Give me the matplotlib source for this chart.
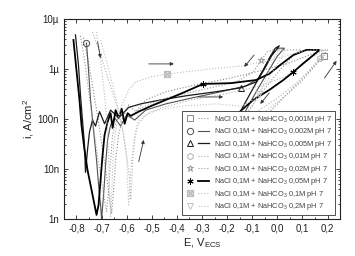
import matplotlib
matplotlib.use('Agg')
import matplotlib.pyplot as plt
from matplotlib.lines import Line2D
from matplotlib.legend_handler import HandlerTuple
from matplotlib.ticker import MultipleLocator, LogLocator

plt.rcParams['font.family'] = ['Liberation Sans', 'DejaVu Sans']
plt.rcParams['mathtext.fontset'] = 'custom'
plt.rcParams['mathtext.rm'] = 'Liberation Sans'
plt.rcParams['mathtext.it'] = 'Liberation Sans:italic'

# data (E in V vs ECS, i in A/cm2), forward scan then reverse scan
E1 = [-0.772, -0.752, -0.732, -0.712, -0.696, -0.68, -0.668, -0.66, -0.652, -0.644, -0.632, -0.616, -0.592, -0.564,
      -0.524, -0.444, -0.324, -0.184, -0.056, 0.036, 0.116, 0.168, 0.2, 0.184, 0.152, 0.104, 0.048, -0.016, -0.08, -0.144]
i1 = [4.2e-6, 1.4e-6, 3.5e-7, 8.7e-8, 2.4e-8, 7.6e-9, 2.4e-9, 1.26e-9, 3.8e-9, 1.5e-8, 4.8e-8, 1.05e-7, 1.9e-7, 1.4e-7,
      2.4e-7, 3.5e-7, 4.8e-7, 6.6e-7, 9.5e-7, 1.26e-6, 1.8e-6, 2.3e-6, 2.4e-6, 1.8e-6, 1.2e-6, 6.6e-7, 3.5e-7, 1.65e-7, 8e-8, 3.8e-8]

E2 = [-0.76, -0.752, -0.744, -0.732, -0.72, -0.712, -0.704, -0.70, -0.692, -0.684, -0.676, -0.664, -0.648, -0.624, -0.60,
      -0.568, -0.524, -0.444, -0.344, -0.224, -0.124, -0.072, -0.044, -0.02, 0.004, 0.028, 0.0, -0.04, -0.08, -0.12, -0.16, -0.2]
i2 = [3.3e-6, 9.5e-7, 2.4e-7, 6e-8, 1.5e-8, 4.8e-9, 1.9e-9, 1.0e-9, 3e-9, 1.2e-8, 3.8e-8, 7.6e-8, 1.05e-7, 7.2e-8, 1.2e-7,
      9.5e-8, 1.5e-7, 2e-7, 2.6e-7, 3.5e-7, 4.6e-7, 6.6e-7, 1.15e-6, 2e-6, 2.6e-6, 2.6e-6, 1.8e-6, 8.3e-7, 3.8e-7, 1.65e-7, 7.2e-8, 3.2e-8]

E3 = [-0.804, -0.792, -0.784, -0.776, -0.768, -0.764, -0.756, -0.748, -0.736, -0.724, -0.708, -0.688, -0.664, -0.632, -0.592,
      -0.544, -0.464, -0.364, -0.244, -0.144, -0.084, -0.056, -0.032, -0.008, 0.008, -0.024, -0.064, -0.104, -0.144, -0.184, -0.224]
i3 = [4.8e-6, 1.2e-6, 3e-7, 9.5e-8, 3e-8, 8.5e-9, 2.4e-8, 5.5e-8, 9.5e-8, 7.2e-8, 1.4e-7, 8e-8, 1.5e-7, 1.05e-7, 1.7e-7,
      2e-7, 2.4e-7, 2.9e-7, 3.5e-7, 4.2e-7, 5.5e-7, 9.5e-7, 1.65e-6, 2.6e-6, 2.9e-6, 1.8e-6, 8e-7, 3.5e-7, 1.5e-7, 6.6e-8, 2.9e-8]

E4 = [-0.736, -0.704, -0.672, -0.64, -0.616, -0.6, -0.588, -0.584, -0.58, -0.576, -0.568, -0.556, -0.524, -0.464, -0.344,
      -0.204, -0.064, 0.036, 0.096, 0.144, 0.184, 0.168, 0.128, 0.072, 0.0, -0.08, -0.16]
i4 = [5.5e-6, 1.9e-6, 6e-7, 1.9e-7, 6e-8, 1.9e-8, 6e-9, 2.4e-9, 5.5e-9, 1.5e-8, 3.8e-8, 7.6e-8, 1.2e-7, 1.65e-7, 2.4e-7,
      3.2e-7, 4.6e-7, 7.2e-7, 1.15e-6, 1.8e-6, 2.4e-6, 1.65e-6, 9.5e-7, 5e-7, 2.6e-7, 1.4e-7, 6.6e-8]

E5 = [-0.784, -0.768, -0.752, -0.736, -0.72, -0.704, -0.692, -0.68, -0.672, -0.664, -0.656, -0.64, -0.616, -0.584, -0.544,
      -0.444, -0.304, -0.164, -0.096, -0.064, -0.04, -0.016, 0.096, 0.072, 0.032, -0.016, -0.072, -0.128, -0.184]
i5 = [4.6e-6, 1.5e-6, 3.8e-7, 9.5e-8, 2.4e-8, 7.6e-9, 3e-9, 1.4e-9, 3.8e-9, 1.5e-8, 4.8e-8, 9.5e-8, 1.4e-7, 1.05e-7, 1.65e-7,
      2.6e-7, 3.8e-7, 5.5e-7, 8.7e-7, 1.5e-6, 2.2e-6, 2.4e-6, 2.4e-6, 2e-6, 1.26e-6, 6.6e-7, 2.9e-7, 1.2e-7, 4.8e-8]

E6 = [-0.812, -0.800, -0.788, -0.780, -0.768, -0.756, -0.744, -0.732, -0.720, -0.712, -0.704, -0.696, -0.688, -0.676,
      -0.664, -0.656, -0.644, -0.632, -0.620, -0.608, -0.596, -0.584, -0.552, -0.504, -0.444, -0.384, -0.296, -0.184,
      -0.084, -0.032, 0.016, 0.064, 0.116, 0.168, 0.144, 0.104, 0.064, 0.024, -0.032, -0.096, -0.164, -0.224, -0.284]
i6 = [3.8e-6, 9.5e-7, 2.4e-7, 7.6e-8, 2.4e-8, 9.5e-9, 4.8e-9, 2.4e-9, 1.2e-9, 1.9e-9, 6e-9, 1.9e-8, 4.8e-8, 8.7e-8,
      1.3e-7, 6.6e-8, 1.5e-7, 1.05e-7, 1.6e-7, 8e-8, 1.3e-7, 1.15e-7, 1.4e-7, 1.8e-7, 2.4e-7, 3.2e-7, 5e-7, 5.2e-7,
      6e-7, 8e-7, 1.25e-6, 1.9e-6, 2.4e-6, 2.4e-6, 1.9e-6, 1.3e-6, 8.7e-7, 6e-7, 3.8e-7, 2.4e-7, 1.2e-7, 5.5e-8, 2.4e-8]

E7 = [-0.72, -0.704, -0.688, -0.676, -0.672, -0.668, -0.664, -0.66, -0.656, -0.652, -0.64, -0.624, -0.592, -0.564, -0.504,
      -0.44, -0.304, -0.144, -0.024, 0.076, 0.144, 0.192, 0.176, 0.144, 0.096, 0.032, -0.048, -0.128]
i7 = [5.5e-6, 1.5e-6, 3e-7, 6e-8, 1.5e-8, 3.8e-9, 1.1e-9, 2.9e-9, 9.5e-9, 3e-8, 7.6e-8, 1.65e-7, 3.8e-7, 5.5e-7, 6.9e-7,
      7.9e-7, 9.5e-7, 1.15e-6, 1.5e-6, 2.1e-6, 2.4e-6, 2.4e-6, 1.75e-6, 1.05e-6, 5.5e-7, 2.9e-7, 1.4e-7, 6.6e-8]

E8 = [-0.704, -0.68, -0.656, -0.632, -0.612, -0.6, -0.596, -0.592, -0.588, -0.58, -0.568, -0.552, -0.504, -0.384, -0.244,
      -0.144, -0.096, -0.072, -0.048, -0.024, 0.0, 0.032, 0.016, -0.024, -0.072, -0.12, -0.168]
i8 = [3.8e-6, 1.4e-6, 4.8e-7, 1.5e-7, 4.8e-8, 1.5e-8, 4.8e-9, 1.9e-9, 4.8e-9, 1.5e-8, 4.8e-8, 9.5e-8, 1.4e-7, 1.8e-7, 2e-7,
      1.8e-7, 2.4e-7, 3.2e-7, 6e-7, 1.26e-6, 2.2e-6, 2.4e-6, 1.65e-6, 7.9e-7, 3.2e-7, 1.2e-7, 4.8e-8]

labels = ['NaCl 0,1M + NaHCO$_3$ 0,001M pH 7',
          'NaCl 0,1M + NaHCO$_3$ 0,002M pH 7',
          'NaCl 0,1M + NaHCO$_3$ 0,005M pH 7',
          'NaCl 0,1M + NaHCO$_3$ 0,01M pH 7',
          'NaCl 0,1M + NaHCO$_3$ 0,02M pH 7',
          'NaCl 0,1M + NaHCO$_3$ 0,05M pH 7',
          'NaCl 0,1M + NaHCO$_3$ 0,1M pH 7',
          'NaCl 0,1M + NaHCO$_3$ 0,2M pH 7']

x_ticks = [-0.8, -0.7, -0.6, -0.5, -0.4, -0.3, -0.2, -0.1, 0.0, 0.1, 0.2]
x_tick_labels = ['-0,8', '-0,7', '-0,6', '-0,5', '-0,4', '-0,3', '-0,2', '-0,1', '0,0', '0,1', '0,2']
y_ticks = [1e-9, 1e-8, 1e-7, 1e-6, 1e-5]
y_tick_labels = ['1n', '10n', '100n', '1µ', '10µ']

# arrows showing scan direction: (E start, i start, E end, i end)
arrows = [(-0.716, 3.5e-6, -0.704, 1.65e-6),
          (-0.552, 1.4e-8, -0.532, 3.8e-8),
          (-0.512, 1.26e-6, -0.412, 1.26e-6),
          (-0.316, 2.75e-7, -0.216, 2.75e-7),
          (-0.092, 1.9e-6, -0.132, 1.1e-6),
          (-0.032, 3.3e-7, -0.068, 2.0e-7),
          (0.188, 6.6e-7, 0.236, 1.45e-6)]

# styles
curves = [(E1, i1), (E2, i2), (E3, i3), (E4, i4), (E5, i5), (E6, i6), (E7, i7), (E8, i8)]
colors = ['#8a8a8a', '#505050', '#1a1a1a', '#b0b0b0', '#9a9a9a', '#000000', '#bdbdbd', '#c4c4c4']
styles = [':', '-', '-', ':', ':', '-', ':', ':']
widths = [0.8, 0.8, 0.9, 0.8, 0.8, 1.3, 0.8, 0.8]
markers = ['s', 'o', '^', 'h', '*', (6, 2, 0), '$\\boxtimes$', 'v']
marker_at = [[23], [0], [19], [21], [19], [26, 36], [15], [17]]

fig = plt.figure(figsize=(3.55, 2.56), dpi=100)
ax = fig.add_axes([0.180, 0.145, 0.778, 0.781])

handles = []
for k in range(8):
    E, cur = curves[k]
    ax.plot(E, cur, color=colors[k], ls=styles[k], lw=widths[k], marker=markers[k],
            markevery=marker_at[k], ms=4.5, mfc='none', mec=colors[k], mew=0.7)
    h_m = Line2D([], [], ls='none', marker=markers[k], ms=4.5, mfc='none', mec=colors[k], mew=0.7)
    h_l = Line2D([], [], color=colors[k], ls=styles[k], lw=widths[k])
    handles.append((h_m, h_l))

for a in arrows:
    ax.annotate('', xy=(a[2], a[3]), xytext=(a[0], a[1]),
                arrowprops=dict(arrowstyle='-|>', lw=0.6, color='#333333', mutation_scale=5, shrinkA=0, shrinkB=0))

ax.set_yscale('log')
ax.set_xlim(-0.85, 0.25)
ax.set_ylim(1e-9, 1e-5)
ax.set_xticks(x_ticks)
ax.set_xticklabels(x_tick_labels)
ax.set_yticks(y_ticks)
ax.set_yticklabels(y_tick_labels)
ax.xaxis.set_minor_locator(MultipleLocator(0.05))
ax.yaxis.set_minor_locator(LogLocator(base=10, subs=range(2, 10), numticks=20))
ax.tick_params(which='both', direction='in', top=True, right=True, labelsize=7, colors='#222222', width=0.6)
ax.tick_params(which='major', length=3)
ax.tick_params(which='minor', length=1.5)
for s in ax.spines.values():
    s.set_linewidth(0.8)
    s.set_color('#222222')

ax.set_xlabel('E, V$_\\mathrm{ECS}$', fontsize=8, color='#222222', labelpad=2)
ax.set_ylabel('i, A/cm$^2$', fontsize=8, color='#222222', labelpad=1)

leg = ax.legend(handles, labels, handler_map={tuple: HandlerTuple(ndivide=None, pad=0.4)},
                loc='lower right', bbox_to_anchor=(0.982, 0.02), borderaxespad=0, fontsize=5.3,
                handlelength=3.4, handletextpad=0.7, labelspacing=0.2, borderpad=0.35,
                frameon=True, fancybox=False, framealpha=1, edgecolor='#333333')
leg.get_frame().set_linewidth(0.6)
for t in leg.get_texts():
    t.set_color('#444444')

fig.savefig('out.png', dpi=100)
